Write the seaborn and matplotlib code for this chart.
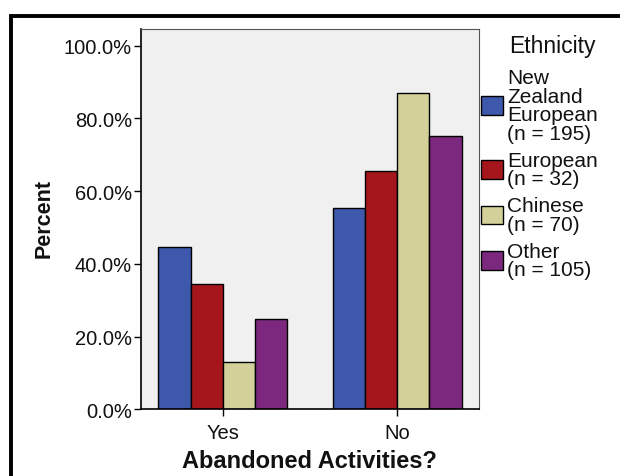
import matplotlib
matplotlib.use("Agg")
import matplotlib.pyplot as plt
from matplotlib.patches import Rectangle
from matplotlib.ticker import FuncFormatter
import seaborn as sns
import pandas as pd

# ---- data ----
categories = ["Yes", "No"]
ethnicities = ["New\nZealand\nEuropean\n(n = 195)", "European\n(n = 32)",
               "Chinese\n(n = 70)", "Other\n(n = 105)"]
pct_yes = [44.6, 34.4, 12.9, 24.8]
pct_no = [55.4, 65.6, 87.1, 75.2]
colors = ["#3E58AC", "#A5161C", "#D4D09A", "#7B287E"]

rows = []
for eth, y, n in zip(ethnicities, pct_yes, pct_no):
    rows.append({"Abandoned": categories[0], "Ethnicity": eth, "Percent": y})
    rows.append({"Abandoned": categories[1], "Ethnicity": eth, "Percent": n})
df = pd.DataFrame(rows)

sns.set_theme(style="white")
plt.rcParams["font.family"] = ["Liberation Sans", "DejaVu Sans"]

W, H = 620, 477
fig = plt.figure(figsize=(6.2, 4.77), dpi=100)
ax = fig.add_axes([141 / W, 1 - 410.3 / H, (479 - 141) / W, (410.3 - 30) / H])
ax.set_facecolor("#F0F0F0")

sns.barplot(data=df, x="Abandoned", y="Percent", hue="Ethnicity",
            order=categories, hue_order=ethnicities, palette=colors,
            width=0.74, edgecolor="black", linewidth=1.0, saturation=1,
            ax=ax)

ax.set_xlim(-0.47, 1.47)
ax.set_ylim(0, 104.6)
ax.set_yticks([0, 20, 40, 60, 80, 100])
ax.yaxis.set_major_formatter(FuncFormatter(lambda v, p: f"{v:.1f}%"))
ax.tick_params(axis="both", which="major", direction="out", length=5,
               width=1, color="black", labelsize=14.5, labelcolor="#111111",
               left=True, bottom=True)
ax.tick_params(axis="y", pad=1.5)
ax.tick_params(axis="x", pad=5)
for side in ["left", "bottom"]:
    ax.spines[side].set_color("black")
    ax.spines[side].set_linewidth(1.2)
for side in ["top", "right"]:
    ax.spines[side].set_color("#555555")
    ax.spines[side].set_linewidth(0.8)

ax.set_xlabel("")
ax.set_ylabel("")
fig.text(44.5 / W, 1 - 219 / H, "Percent", rotation=90, ha="center",
         va="center", fontsize=15.5, fontweight="bold", color="#111111")
fig.text(309 / W, 1 - 462 / H, "Abandoned Activities?", ha="center",
         va="center", fontsize=17, fontweight="bold", color="#111111")

# legend
handles, labels = ax.get_legend_handles_labels()
if ax.get_legend() is not None:
    ax.get_legend().remove()
leg = fig.legend(handles, labels, loc="upper left",
                 bbox_to_anchor=(481 / W, 1 - 69 / H), frameon=False,
                 fontsize=15, handlelength=1.05, handleheight=1.0,
                 handletextpad=0.22, labelspacing=0.38, borderpad=0,
                 borderaxespad=0)
for t in leg.get_texts():
    t.set_linespacing(0.97)
    t.set_color("#111111")
fig.text(552 / W, 1 - 47 / H, "Ethnicity", ha="center", va="center",
         fontsize=16.5, color="#111111")

# outer border (clipped by image edges at right/bottom)
fig.add_artist(Rectangle((10.5 / W, -0.2), 1.5, 1.2 - 17 / H,
                         transform=fig.transFigure, fill=False,
                         edgecolor="black", linewidth=2.8))

fig.savefig("out.png", dpi=100)
